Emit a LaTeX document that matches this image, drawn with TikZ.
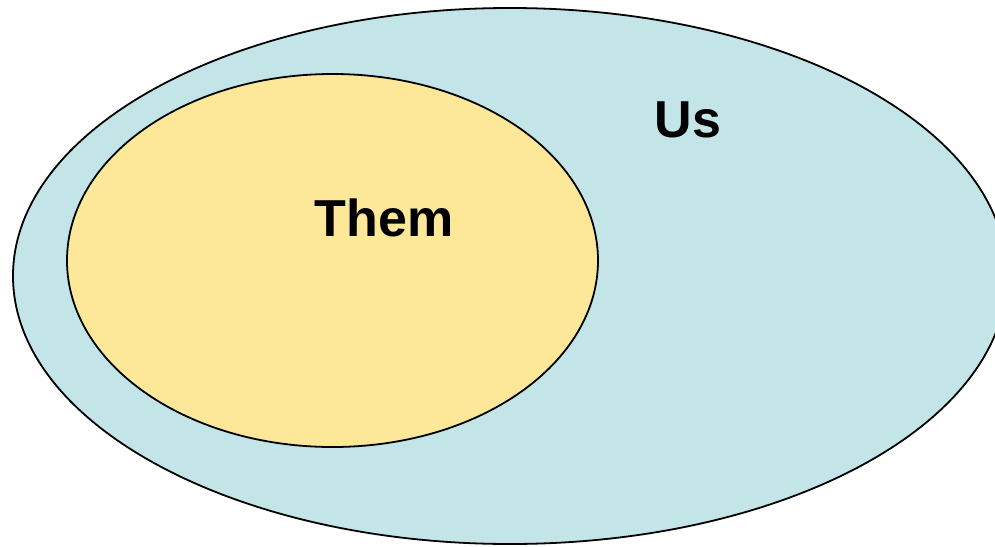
\documentclass[tikz,border=0pt]{standalone}
\usepackage{fontspec}
\setmainfont{Liberation Sans}
\definecolor{usfill}{HTML}{C4E5E8}
\definecolor{themfill}{HTML}{FDE89A}
\tikzset{
  setshape/.style={draw=black, line width=1.8pt},
  setlabel/.style={font=\fontsize{52}{60}\selectfont\bfseries, inner sep=0pt, anchor=center}
}
\begin{document}
\begin{tikzpicture}[x=1pt,y=-1pt]
\useasboundingbox (0,0) rectangle (995,546);
\clip (0,0) rectangle (995,546);
\fill[white] (0,0) rectangle (995,546);
\draw[setshape, fill=usfill] (510,276) ellipse [x radius=497, y radius=268];
\draw[setshape, fill=themfill] (332.5,260.5) ellipse [x radius=265.5, y radius=186.5];
\node[setlabel] (us) at (688,120) {Us};
\node[setlabel] (them) at (384,218) {Them};
\end{tikzpicture}
\end{document}
